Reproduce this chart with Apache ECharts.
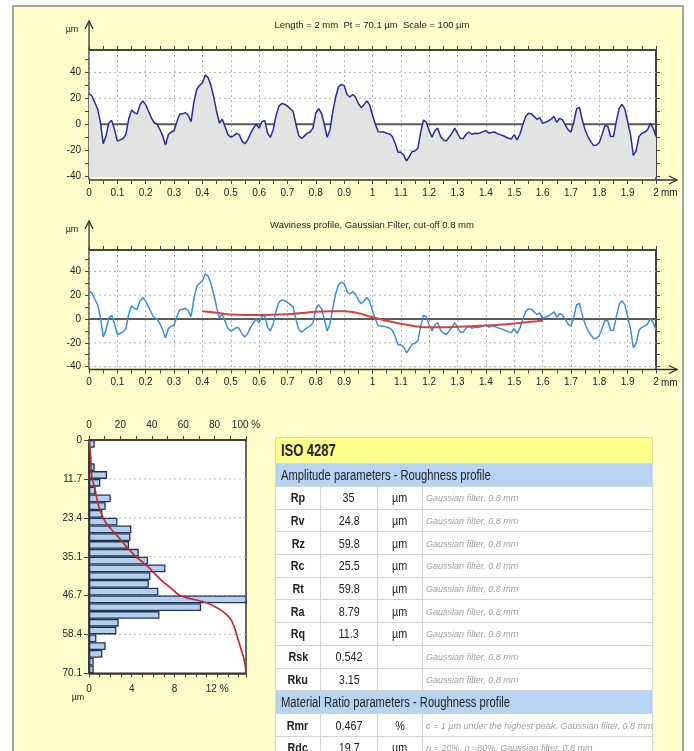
<!DOCTYPE html>
<html>
<head>
<meta charset="utf-8">
<script src="https://cdn.jsdelivr.net/npm/echarts@6/dist/echarts.min.js"></script>
<style>
  html, body { margin: 0; padding: 0; width: 694px; height: 751px; overflow: hidden; background: #fff; }
  #panel { position: absolute; left: 12px; top: 5px; width: 672px; height: 800px; box-sizing: border-box;
           background: #fffdca; border: 2px solid #a6a6a6; }
  #chart { position: absolute; left: 0; top: 0; width: 694px; height: 751px; }
  #params { position: absolute; left: 275px; top: 437px; width: 377px; border-collapse: collapse; table-layout: fixed;
            font-family: "Liberation Sans", Arial, sans-serif; color: #222; }
  #params td { border: 1px solid #d2d2d2; padding: 0; overflow: hidden; white-space: nowrap; }
  #params tr.iso td { background: #ffff8c; font-weight: bold; font-size: 17px; height: 25px; padding-left: 5px; border-color: #dcdca0; }
  #params tr.group td { background: #b8d4f4; font-size: 14px; height: 22px; padding-left: 5px; border-color: #c8d8ea; }
  #params tr.row td { background: #fff; font-size: 13.5px; height: 21.7px; text-align: center; }
  #params tr.row td.name { font-weight: bold; }
  #params tr.row td.note { text-align: left; font-style: italic; color: #a0a0a0; font-size: 9.5px; padding-left: 3px; }
  .sq { display: inline-block; transform-origin: 50% 50%; transform: scaleX(0.8); }
  tr.iso .sq { transform-origin: 0 50%; transform: scaleX(0.76); }
  tr.group .sq { transform-origin: 0 50%; transform: scaleX(0.8); }
  td.note .sq { transform-origin: 0 50%; transform: scaleX(0.95); }
</style>
</head>
<body>
<div id="panel"></div>
<div id="chart"></div>
<table id="params"><colgroup><col style="width:45px"><col style="width:57px"><col style="width:45px"><col style="width:230px"></colgroup><tbody id="paramsBody"></tbody></table>
<script>
// roughness profile, one reading every 0.01 mm from 0 to 2 mm (µm)
const profileStart = 0;
const profileStep = 0.01;
const profileLength = 2;
const profileValues = [
  23.5, 22, 17, 12, 2, -15, -9, 1, 3, -4,
  -13, -12, -11, -8, 4, 11, 9, 8, 15, 18,
  15, 10, 5, 1, 0, -4, -9, -16, -8, -6,
  -5, 2, 8, 8, 9, 7, 2, 17, 27, 30,
  32, 38, 36, 30, 21, 10, 1, 4, -2, -8,
  -10, -9, -7, -8, -13, -15, -12, -7, -3, 0,
  -3, 2, 3, -7, -10, -4, 7, 14, 16, 15.5,
  14, 12, 10, 0, -8.8, -11, -9, -7, -6, -3,
  8.5, 12, 8.5, 0, -10, -4.4, 9.7, 21, 28.8, 30.8,
  29.8, 23, 21, 23, 21, 16, 12.8, 15, 18, 15,
  7, 0, -5.7, -6, -6, -7, -7.5, -9.5, -14.7, -21.6,
  -21.6, -23.7, -28.3, -25, -21, -20.6, -18.5, -6, 3.3, 1.5,
  -5, -10, -5, -3, -9.5, -12, -13, -10, -7, -3,
  -7, -11, -11, -7.7, -6, -7.7, -7, -7.2, -6.7, -5.7,
  -5, -6.7, -6.4, -6, -7.2, -8, -8.7, -9.8, -10.8, -11.3,
  -8, -12, -7.7, -0.5, 6, 8.5, 8.2, 6, 3.8, 5,
  0.7, 1.5, 2.5, 4, 6, 1.5, 4.6, 3.3, -0.5, -4.4,
  -6, 1.5, 12, 13, 3.3, -4.4, -9.5, -13.4, -16.5, -16,
  -14, -7.7, -1, -1.5, -9.5, -9.5, 2, 12.3, 15.4, 11.8,
  2, -8, -24, -20.6, -9.5, -7, -6, -4.4, 0.7, -3, -9.5
];

// waviness line (gaussian filter), every 0.05 mm from 0.4 to 1.6 mm
const wavinessStart = 0.4;
const wavinessStep = 0.05;
const wavinessValues = [6.5, 5.3, 3.8, 3.4, 3.4, 3.5, 4.0, 5.0, 6.0, 6.4, 6.4, 4.8, 1.5,
                        -1.5, -4, -6, -7, -7, -6.5, -6, -5.5, -4.8, -3.8, -2.6, -1.4];

// profile axes
const profileYLabels = [-40, -20, 0, 20, 40];
const profileYTicks = [-40, -30, -20, -10, 0, 10, 20, 30, 40, 50];
const profileGridLines = [-40, -20, 20, 40];

// amplitude distribution, 30 depth classes from 0 to 70.1 µm (% of points)
const histPercent = [0.53, 0.15, 0.2, 0.53, 1.69, 1.06, 0.6, 2.03, 1.56, 1.25,
                     2.66, 3.97, 3.88, 3.75, 4.66, 5.53, 7.16, 5.75, 5.6, 6.5,
                     15, 10.5, 6.6, 2.78, 2.56, 0.69, 1.56, 1.25, 0.44, 0.44];
const histClasses = histPercent.map((_, i) => 'c' + (i + 1));

// bearing (Abbott) curve
const abbottDepth = [0, 2.3, 4.7, 7.0, 9.3, 11.7, 14.0, 16.4, 18.7, 21.0, 23.4, 25.7, 28.0, 30.4, 32.7,
                     35.1, 37.4, 39.7, 42.1, 44.4, 46.7, 49.1, 51.4, 53.7, 56.1, 58.4, 60.7, 63.1, 65.4, 67.7, 70.1];
const abbottPct = [0, 0.5, 1, 1.2, 1.5, 2, 3.5, 4.5, 5.5, 7, 9, 12, 16.5, 21, 25,
                   30, 36, 41, 46, 52, 58, 76, 85, 90, 92.5, 94, 95.5, 97, 98.5, 99.5, 100];

const depthTicks = [0, 11.7, 23.4, 35.1, 46.7, 58.4, 70.1];
const histPctLabels = [0, 4, 8, 12];
const abbottPctLabels = [0, 20, 40, 60, 80, 100];

// ISO 4287 table
const amplitudeTitle = 'Amplitude parameters - Roughness profile';
const amplitudeNames = ['Rp', 'Rv', 'Rz', 'Rc', 'Rt', 'Ra', 'Rq', 'Rsk', 'Rku'];
const amplitudeValues = ['35', '24.8', '59.8', '25.5', '59.8', '8.79', '11.3', '0.542', '3.15'];
const amplitudeUnits = ['µm', 'µm', 'µm', 'µm', 'µm', 'µm', 'µm', '', ''];
const amplitudeNote = 'Gaussian filter, 0.8 mm';
const materialTitle = 'Material Ratio parameters - Roughness profile';
const materialNames = ['Rmr', 'Rdc'];
const materialValues = ['0.467', '19.7'];
const materialUnits = ['%', 'µm'];
const materialNotes = ['c = 1 µm under the highest peak, Gaussian filter, 0.8 mm', 'p = 20%, q =80%, Gaussian filter, 0.8 mm'];

const FONT = '"Liberation Sans", Arial, sans-serif';
const AXIS = '#444';
const DOT = { color: '#b3b3b3', type: [2, 3], width: 1 };

// --- table ---
const sq = s => `<span class="sq">${s}</span>`;
function addRow(html) { document.getElementById('paramsBody').insertAdjacentHTML('beforeend', html); }
function paramRow(name, value, unit, note) {
  addRow(`<tr class="row"><td class="name">${sq(name)}</td><td>${sq(value)}</td><td>${sq(unit)}</td><td class="note">${sq(note)}</td></tr>`);
}
addRow(`<tr class="iso"><td colspan="4">${sq('ISO 4287')}</td></tr>`);
addRow(`<tr class="group"><td colspan="4">${sq(amplitudeTitle)}</td></tr>`);
amplitudeNames.forEach((n, i) => paramRow(n, amplitudeValues[i], amplitudeUnits[i], amplitudeNote));
addRow(`<tr class="group"><td colspan="4">${sq(materialTitle)}</td></tr>`);
materialNames.forEach((n, i) => paramRow(n, materialValues[i], materialUnits[i], materialNotes[i]));

// --- charts ---
const profilePairs = profileValues.map((v, i) => [+(profileStart + i * profileStep).toFixed(2), v]);
const wavinessPairs = wavinessValues.map((v, i) => [+(wavinessStart + i * wavinessStep).toFixed(2), v]);
const abbottPairs = abbottPct.map((p, i) => [p, abbottDepth[i]]);

const panels = [
  { top: 50, height: 127, min: -40.7, max: 57.3, axisY: 180, arrowTop: 21, title: 'Length = 2 mm  Pt = 70.1 µm  Scale = 100 µm', titleY: 25 },
  { top: 250, height: 117.5, min: -40.7, max: 57.9, axisY: 369.5, arrowTop: 221, title: 'Waviness profile, Gaussian Filter, cut-off 0.8 mm', titleY: 225 }
];
const plotLeft = 89, plotWidth = 567;

const grid = [], xAxis = [], yAxis = [], series = [], graphic = [];
const labelStyle = { fontSize: 10, color: '#222', fontFamily: FONT };

function txt(text, x, y, align, size) {
  graphic.push({ type: 'text', silent: true,
    style: { text, x, y, align: align || 'center', verticalAlign: 'middle', font: (size || 9.5) + 'px ' + FONT, fill: '#222' } });
}
function seg(x1, y1, x2, y2) {
  graphic.push({ type: 'line', silent: true, shape: { x1, y1, x2, y2 }, style: { stroke: '#333', lineWidth: 1.3 } });
}
function poly(points) {
  graphic.push({ type: 'polyline', silent: true, shape: { points }, style: { stroke: '#333', lineWidth: 1.3, fill: null } });
}
// horizontal reference line drawn as its own series so it sits under the profile fill
function refLine(xi, yi, x0, x1, v, style) {
  series.push({ type: 'line', xAxisIndex: xi, yAxisIndex: yi, data: [[x0, v], [x1, v]], z: 1, silent: true,
    symbol: 'none', showSymbol: false, lineStyle: style, tooltip: { show: false } });
}

panels.forEach((p, g) => {
  grid.push({ left: plotLeft, top: p.top, width: plotWidth, height: p.height, show: true, backgroundColor: '#fff', borderWidth: 0 });
  const bottomEdge = p.top + p.height;
  xAxis.push({
    gridIndex: g, type: 'value', min: 0, max: profileLength, interval: 0.1, position: 'bottom', offset: p.axisY - bottomEdge,
    axisLine: { show: false, onZero: false },
    axisTick: { show: true, length: 4, lineStyle: { color: AXIS } },
    minorTick: { show: true, splitNumber: 2, length: 4, lineStyle: { color: AXIS } },
    axisLabel: Object.assign({ margin: 8, formatter: v => String(Number(v.toFixed(2))) }, labelStyle),
    splitLine: { show: true, lineStyle: DOT }
  });
  xAxis.push({
    gridIndex: g, type: 'value', min: 0, max: profileLength, interval: 0.1, position: 'top',
    axisLine: { show: true, onZero: false, lineStyle: { color: AXIS, width: 2 } },
    axisTick: { show: true, length: 4, lineStyle: { color: AXIS } },
    minorTick: { show: true, splitNumber: 2, length: 4, lineStyle: { color: AXIS } },
    axisLabel: { show: false }, splitLine: { show: false }
  });
  yAxis.push({
    gridIndex: g, type: 'value', min: p.min, max: p.max, position: 'left',
    axisLine: { show: false, onZero: false },
    axisTick: { show: true, length: 4, customValues: profileYTicks, lineStyle: { color: AXIS } },
    axisLabel: Object.assign({ margin: 8, customValues: profileYLabels }, labelStyle),
    splitLine: { show: false }
  });
  yAxis.push({
    gridIndex: g, type: 'value', min: p.min, max: p.max, position: 'right',
    axisLine: { show: true, onZero: false, lineStyle: { color: AXIS, width: 2 } },
    axisTick: { show: true, length: 4, customValues: profileYTicks, lineStyle: { color: AXIS } },
    axisLabel: { show: false }, splitLine: { show: false }
  });
  profileGridLines.forEach(v => refLine(2 * g, 2 * g, 0, profileLength, v, DOT));
  refLine(2 * g, 2 * g, 0, profileLength, 0, { color: '#5a5a5a', type: 'solid', width: 2 });
  series.push({
    type: 'line', xAxisIndex: 2 * g, yAxisIndex: 2 * g, data: profilePairs,
    symbol: 'none', showSymbol: false, z: 2,
    lineStyle: { color: g === 0 ? '#2a2a9c' : '#3a90d6', width: 1.5 },
    areaStyle: g === 0 ? { color: '#e3e3e3', opacity: 1, origin: 'start' } : undefined
  });
  // axes with arrows
  seg(plotLeft, p.axisY, plotLeft, p.arrowTop);
  poly([[plotLeft - 4, p.arrowTop + 8], [plotLeft, p.arrowTop], [plotLeft + 4, p.arrowTop + 8]]);
  seg(plotLeft, p.axisY, 677, p.axisY);
  poly([[669, p.axisY - 4], [677, p.axisY], [669, p.axisY + 4]]);
  seg(plotLeft + plotWidth, bottomEdge, plotLeft + plotWidth, p.axisY);
  txt('µm', 72, p.arrowTop + 8.5, 'center', 9);
  txt('mm', 661, p.axisY + 13.5, 'left', 10);
  txt(p.title, 372, p.titleY, 'center', 9.5);
});

series.push({
  type: 'line', xAxisIndex: 2, yAxisIndex: 2, data: wavinessPairs, smooth: 0.3,
  symbol: 'none', showSymbol: false, z: 3, lineStyle: { color: '#d4433d', width: 2 }
});

// histogram + bearing curve
grid.push({ left: plotLeft, top: 440, width: 157, height: 233.3, show: true, backgroundColor: '#fff', borderColor: '#333', borderWidth: 1.5 });
xAxis.push({
  gridIndex: 2, type: 'value', min: 0, max: 14.7, interval: 1, position: 'bottom',
  axisLine: { show: true, onZero: false, lineStyle: { color: '#333', width: 1.5 } },
  axisTick: { show: true, length: 4, lineStyle: { color: AXIS } },
  axisLabel: Object.assign({ margin: 11, customValues: histPctLabels, formatter: v => v === 12 ? '12 %' : String(v) }, labelStyle),
  splitLine: { show: false }
});
xAxis.push({
  gridIndex: 2, type: 'value', min: 0, max: 100, interval: 10, position: 'top',
  axisLine: { show: true, onZero: false, lineStyle: { color: '#333', width: 1.5 } },
  axisTick: { show: true, length: 4, lineStyle: { color: AXIS } },
  axisLabel: Object.assign({ margin: 10, customValues: abbottPctLabels, formatter: v => v === 100 ? '100 %' : String(v) }, labelStyle),
  splitLine: { show: false }
});
yAxis.push({ gridIndex: 2, type: 'category', data: histClasses, inverse: true, show: false });
yAxis.push({
  gridIndex: 2, type: 'value', min: 0, max: 70.1, inverse: true, position: 'left',
  axisLine: { show: true, onZero: false, lineStyle: { color: '#333', width: 1.5 } },
  axisTick: { show: true, length: 5, customValues: depthTicks, lineStyle: { color: AXIS } },
  axisLabel: Object.assign({ margin: 7, customValues: depthTicks, formatter: v => String(v) }, labelStyle),
  splitLine: { show: false }
});
depthTicks.slice(1, -1).forEach(v => refLine(5, 5, 0, 100, v, DOT));
series.push({
  type: 'bar', xAxisIndex: 4, yAxisIndex: 4, data: histPercent, barCategoryGap: '0%', z: 2,
  itemStyle: { color: '#b3cff0', borderColor: '#26344f', borderWidth: 1.3 }
});
series.push({
  type: 'line', xAxisIndex: 5, yAxisIndex: 5, data: abbottPairs, smooth: 0.3,
  symbol: 'none', showSymbol: false, z: 3, lineStyle: { color: '#c0262b', width: 1.6 }
});
txt('µm', 78, 698, 'center', 9);

const chart = echarts.init(document.getElementById('chart'), null, { renderer: 'canvas' });
chart.setOption({ animation: false, grid, xAxis, yAxis, series, graphic });
</script>
</body>
</html>
